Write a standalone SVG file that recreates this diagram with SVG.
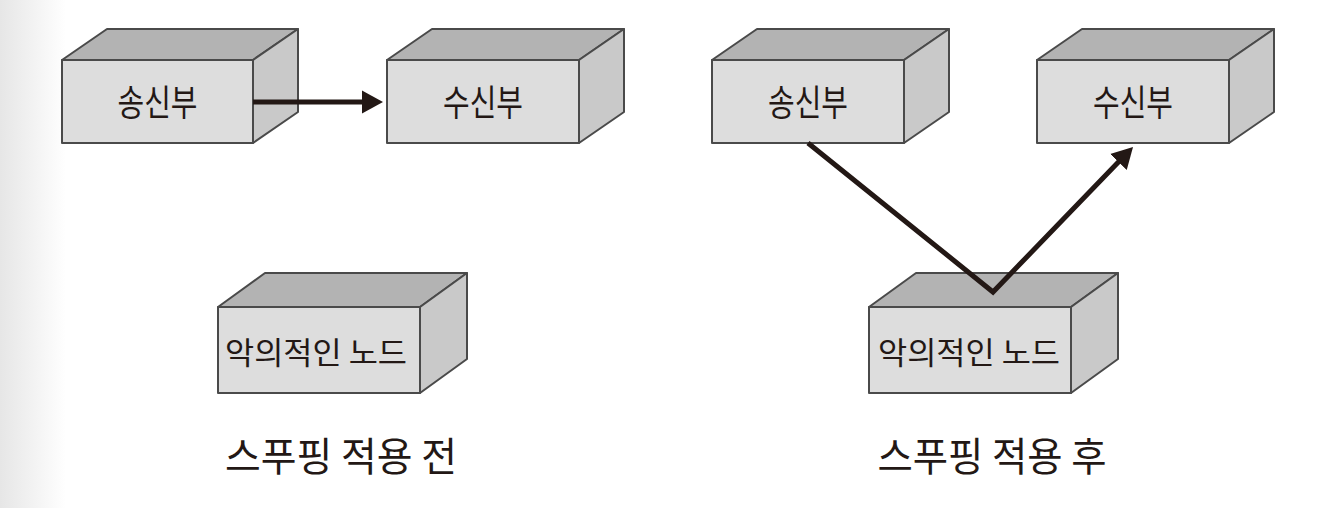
<svg xmlns="http://www.w3.org/2000/svg" width="1342" height="508" viewBox="0 0 1342 508">
  <defs>
    <linearGradient id="edge" x1="0" y1="0" x2="1" y2="0">
      <stop offset="0" stop-color="#e6e6e6"/>
      <stop offset="1" stop-color="#ffffff"/>
    </linearGradient>
    <marker id="arrow" markerUnits="userSpaceOnUse" markerWidth="22" markerHeight="24" refX="8" refY="11.5" orient="auto" viewBox="0 0 22 23">
      <path d="M0,0 L21,11.5 L0,23 z" fill="#231815"/>
    </marker>
    <style>
      .front { fill: #dddddd; stroke: #4a4a4a; stroke-width: 2; stroke-linejoin: round; }
      .top { fill: #b3b3b3; stroke: #4a4a4a; stroke-width: 2; stroke-linejoin: round; }
      .side { fill: #c9c9c9; stroke: #4a4a4a; stroke-width: 2; stroke-linejoin: round; }
      .label { font-family: "Noto Sans CJK KR", "Noto Sans", sans-serif; font-weight: 400; fill: #231815; text-anchor: middle; }
      .conn { fill: none; stroke: #231815; stroke-width: 5; stroke-linejoin: miter; stroke-miterlimit: 10; }
    </style>
  </defs>
  <rect x="0" y="0" width="1342" height="508" fill="#ffffff"/>
  <rect x="0" y="0" width="66" height="508" fill="url(#edge)"/>

  <g id="sender-before">
    <polygon class="top" points="62,60 107,29 298,29 253,60"/>
    <polygon class="side" points="253,60 298,29 298,112 253,143"/>
    <rect class="front" x="62" y="60" width="191" height="83"/>
    <text class="label" x="157.5" y="116" font-size="36" textLength="80" lengthAdjust="spacingAndGlyphs">송신부</text>
  </g>

  <g id="receiver-before">
    <polygon class="top" points="387,60 432,29 624,29 579,60"/>
    <polygon class="side" points="579,60 624,29 624,112 579,143"/>
    <rect class="front" x="387" y="60" width="192" height="83"/>
    <text class="label" x="483" y="116" font-size="36" textLength="80" lengthAdjust="spacingAndGlyphs">수신부</text>
  </g>

  <g id="malicious-before">
    <polygon class="top" points="218,307 265,273 467,273 420,307"/>
    <polygon class="side" points="420,307 467,273 467,359 420,393"/>
    <rect class="front" x="218" y="307" width="202" height="86"/>
    <text class="label" x="316" y="364" font-size="31" textLength="182" lengthAdjust="spacingAndGlyphs">악의적인 노드</text>
  </g>

  <g id="sender-after">
    <polygon class="top" points="712,60 757,29 949,29 904,60"/>
    <polygon class="side" points="904,60 949,29 949,112 904,143"/>
    <rect class="front" x="712" y="60" width="192" height="83"/>
    <text class="label" x="808" y="116" font-size="36" textLength="80" lengthAdjust="spacingAndGlyphs">송신부</text>
  </g>

  <g id="receiver-after">
    <polygon class="top" points="1037,60 1082,29 1274,29 1229,60"/>
    <polygon class="side" points="1229,60 1274,29 1274,112 1229,143"/>
    <rect class="front" x="1037" y="60" width="192" height="83"/>
    <text class="label" x="1133" y="116" font-size="36" textLength="80" lengthAdjust="spacingAndGlyphs">수신부</text>
  </g>

  <g id="malicious-after">
    <polygon class="top" points="869,307 916,273 1118,273 1071,307"/>
    <polygon class="side" points="1071,307 1118,273 1118,359 1071,393"/>
    <rect class="front" x="869" y="307" width="202" height="86"/>
    <text class="label" x="969" y="364" font-size="31" textLength="182" lengthAdjust="spacingAndGlyphs">악의적인 노드</text>
  </g>

  <g id="connectors">
    <path class="conn" d="M253,102 L370,102" marker-end="url(#arrow)"/>
    <path class="conn" d="M808,143 L993,292 L1124,156.3" marker-end="url(#arrow)"/>
  </g>

  <g id="captions">
    <text class="label" x="341" y="471" font-size="40" textLength="232" lengthAdjust="spacingAndGlyphs">스푸핑 적용 전</text>
    <text class="label" x="992" y="471" font-size="40" textLength="229" lengthAdjust="spacingAndGlyphs">스푸핑 적용 후</text>
  </g>
</svg>
